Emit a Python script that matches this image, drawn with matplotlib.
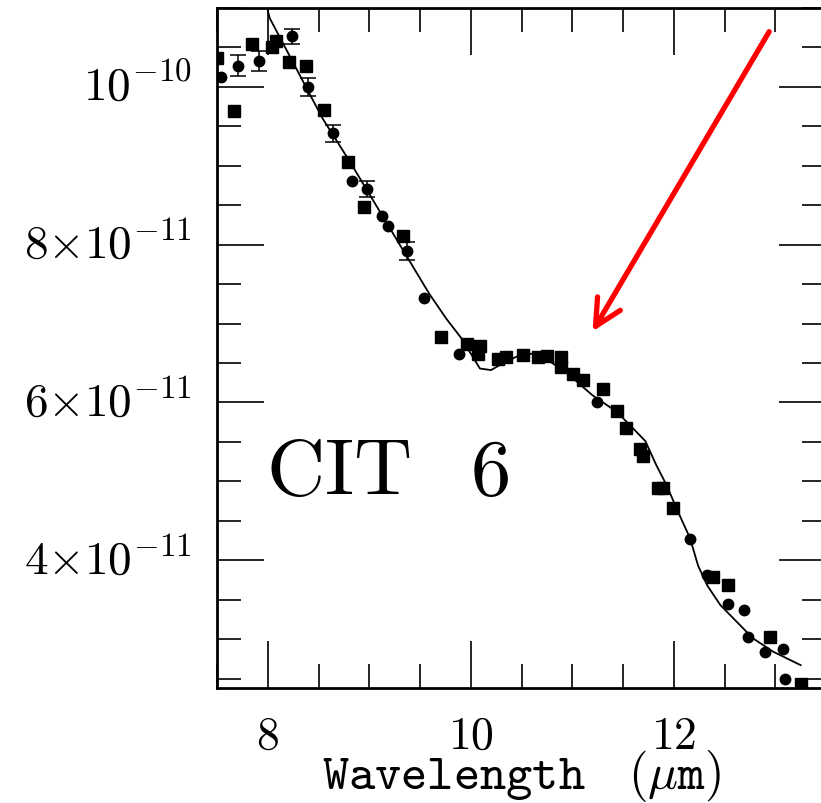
import numpy as np
import matplotlib
matplotlib.use('Agg')
import matplotlib.pyplot as plt
from matplotlib.ticker import MultipleLocator, FixedLocator, FixedFormatter
from matplotlib.patches import FancyArrowPatch
from matplotlib.transforms import ScaledTranslation

# fluxes below are in units of 1e-11
sq_wave = [7.50, 7.67, 7.84, 8.04, 8.08, 8.21, 8.38, 8.55, 8.79, 8.95,
           9.33, 9.71, 9.96, 10.07, 10.09, 10.27, 10.35, 10.51, 10.66, 10.75,
           10.89, 10.89, 11.01, 11.11, 11.30, 11.44, 11.53, 11.67, 11.70, 11.84,
           11.89, 11.99, 12.39, 12.53, 12.95, 13.25]
sq_flux = [10.36, 9.69, 10.54, 10.51, 10.58, 10.32, 10.27, 9.71, 9.05, 8.48,
           8.11, 6.83, 6.74, 6.62, 6.71, 6.55, 6.58, 6.60, 6.58, 6.59,
           6.58, 6.45, 6.36, 6.28, 6.17, 5.89, 5.68, 5.41, 5.32, 4.92,
           4.92, 4.66, 3.79, 3.68, 3.03, 2.43]

pt_wave = [7.54, 7.71, 7.91, 8.24, 8.40, 8.64, 8.83, 8.98, 9.13, 9.18,
           9.37, 9.54, 9.88, 11.24, 12.16, 12.33, 12.53, 12.69, 12.73, 12.90,
           13.08, 13.10]
pt_flux = [10.12, 10.27, 10.33, 10.64, 10.00, 9.41, 8.81, 8.71, 8.36, 8.24,
           7.92, 7.32, 6.62, 6.01, 4.27, 3.81, 3.45, 3.37, 3.03, 2.84,
           2.88, 2.50]
pt_err = [0.0, 0.13, 0.13, 0.10, 0.11, 0.11, 0.0, 0.10, 0.0, 0.0,
          0.11, 0.0, 0.0, 0.0, 0.0, 0.0, 0.0, 0.0, 0.0, 0.0,
          0.0, 0.0]

model_wave = [7.99, 8.02, 8.54, 8.81, 9.59, 9.76, 9.91, 10.09, 10.20, 10.28,
              10.45, 10.61, 10.78, 10.95, 11.20, 11.44, 11.60, 11.72, 11.83, 11.93,
              12.04, 12.16, 12.24, 12.33, 12.46, 12.62, 12.78, 12.98, 13.25]
model_flux = [11.02, 10.87, 9.60, 9.05, 7.38, 7.06, 6.81, 6.43, 6.41, 6.47,
              6.58, 6.62, 6.52, 6.37, 6.09, 5.88, 5.67, 5.51, 5.20, 4.95,
              4.62, 4.28, 3.93, 3.68, 3.43, 3.22, 3.01, 2.84, 2.67]

ytick_vals = [4, 6, 8, 10]
ytick_labels = [r'$4{\times}10^{-11}$', r'$6{\times}10^{-11}$',
                r'$8{\times}10^{-11}$', r'$10^{-10}$']
xtick_vals = [8, 10, 12]
xtick_labels = [r'$8$', r'$10$', r'$12$']

arrow_start = (12.94, 10.70)
arrow_tip = (11.20, 6.90)

unit = 1e-11

plt.rcParams['mathtext.fontset'] = 'cm'
plt.rcParams['font.family'] = 'serif'

fig = plt.figure(figsize=(8.21, 8.04), dpi=100)
ax = fig.add_axes([217 / 821, 1 - 689 / 804, 609 / 821, 680 / 804])

ax.plot(model_wave, np.array(model_flux) * unit, color='k', lw=1.3)
ax.plot(sq_wave, np.array(sq_flux) * unit, 's', color='k', ms=8, mec='k')

pw = np.array(pt_wave)
pf = np.array(pt_flux) * unit
pe = np.array(pt_err) * unit
has_err = pe > 0
ax.errorbar(pw[has_err], pf[has_err], yerr=pe[has_err], fmt='none',
            ecolor='k', elinewidth=1.1, capsize=6, capthick=1.1)
ax.plot(pw, pf, 'o', color='k', ms=7.5)

ax.set_xlim(7.5, 13.5)
ax.set_ylim(2.38 * unit, 11.0 * unit)

ax.xaxis.set_major_locator(FixedLocator(xtick_vals))
ax.xaxis.set_major_formatter(FixedFormatter(xtick_labels))
ax.xaxis.set_minor_locator(MultipleLocator(0.5))
ax.yaxis.set_major_locator(FixedLocator([v * unit for v in ytick_vals]))
ax.yaxis.set_major_formatter(FixedFormatter(ytick_labels))
ax.yaxis.set_minor_locator(MultipleLocator(0.5 * unit))

ax.tick_params(which='both', direction='in', top=True, right=True,
               width=1.2, color='k')
ax.tick_params(which='major', length=34, labelsize=33)
ax.tick_params(which='minor', length=17)
ax.tick_params(axis='y', labelsize=34, pad=18)
ax.tick_params(axis='x', pad=18)
for sp in ax.spines.values():
    sp.set_linewidth(2.0)

# nudge the y labels up a little
lift = ScaledTranslation(0, 4 / 72, fig.dpi_scale_trans)
for lbl in ax.get_yticklabels():
    lbl.set_transform(lbl.get_transform() + lift)

ax.set_xlabel(r'$\mathtt{Wavelength}\ \ \ \mathtt{(}\mu\mathtt{m)}$', fontsize=36)
ax.xaxis.set_label_coords(0.5, -0.147)
ax.xaxis.label.set_va('baseline')

ax.text(0.199, 0.318, r'$\mathrm{CIT}$', transform=ax.transAxes,
        fontsize=58, ha='center', va='center')
ax.text(0.448, 0.318, r'$\mathrm{6}$', transform=ax.transAxes,
        fontsize=58, ha='center', va='center')

arrow = FancyArrowPatch((arrow_start[0], arrow_start[1] * unit),
                        (arrow_tip[0], arrow_tip[1] * unit),
                        arrowstyle='->,head_length=19,head_width=9.5',
                        mutation_scale=1, lw=3.8, color='red',
                        shrinkA=0, shrinkB=0, clip_on=False)
ax.add_patch(arrow)

fig.savefig('out.png', dpi=100)
